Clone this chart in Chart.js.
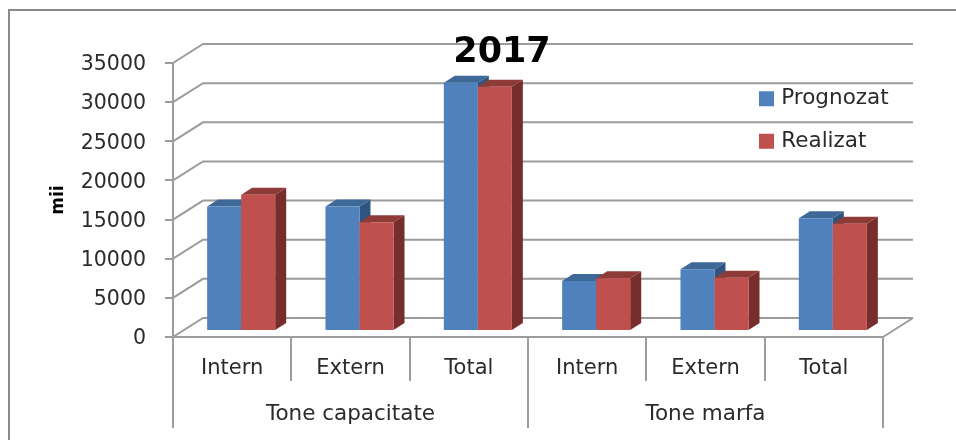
<!DOCTYPE html>
<html><head><meta charset="utf-8">
<style>html,body{margin:0;padding:0;background:#fff;overflow:hidden}canvas{display:block}</style>
<script src="https://cdn.jsdelivr.net/npm/chart.js@4"></script>
</head><body><canvas id="c" width="956" height="440"></canvas>
<script>
const categories = ['Intern','Extern','Total','Intern','Extern','Total'];
const groups = ['Tone capacitate','Tone marfa'];
const prognozat = [15900,15900,31700,6400,7900,14400];
const realizat = [17400,13900,31200,6750,6800,13700];
const titleText = '2017';
const yTitle = 'mii';

const GRID = '#9c9c9c', TEXT = '#2b2b2b', FONT = '"DejaVu Sans"';
const WALL = {dx:30, dy:-19}, BAR = {dx:9, dy:-6}, DEPTH = {dx:11, dy:-7};
const faces = [{top:'#3d6898', side:'#2f5580'},{top:'#8e3b38', side:'#772d2b'}];

const poly = (ctx,pts,fill)=>{ctx.beginPath();pts.forEach((p,i)=>i?ctx.lineTo(p[0],p[1]):ctx.moveTo(p[0],p[1]));ctx.closePath();ctx.fillStyle=fill;ctx.fill();};
const extrude = (ctx,meta,f)=>{
  ctx.translate(BAR.dx,BAR.dy);
  meta.data.forEach(b=>{
    const l=b.x-b.width/2,r=b.x+b.width/2,t=b.y,bt=b.base,dx=DEPTH.dx,dy=DEPTH.dy;
    poly(ctx,[[r,t],[r+dx,t+dy],[r+dx,bt+dy],[r,bt]],f.side);
    poly(ctx,[[l,t],[l+dx,t+dy],[r+dx,t+dy],[r,t]],f.top);
  });
};

const scene = {
  id:'scene',
  afterLayout(chart){
    const t = chart.titleBlock; t.left=402; t.right=602; t.top=35; t.bottom=69;
    const l = chart.legend; const p = l.options.labels.padding;
    l.left = 762.5-p; l.right = 900; l.top = 88-p; l.bottom = 300;
    chart.scales.x.bottom = chart.height;
    chart.scales.x2.bottom = chart.height;
  },
  beforeDraw(chart){
    const {ctx,chartArea:a,scales:{y}} = chart;
    ctx.save();
    ctx.strokeStyle='#8a8a8a';ctx.lineWidth=2;
    ctx.beginPath();ctx.moveTo(9,440);ctx.lineTo(9,10);ctx.lineTo(chart.width,10);ctx.stroke();
    ctx.strokeStyle=GRID;ctx.lineWidth=2;
    y.ticks.forEach(t=>{
      const py=y.getPixelForValue(t.value);
      ctx.beginPath();ctx.moveTo(a.left,py);ctx.lineTo(a.left+WALL.dx,py+WALL.dy);ctx.lineTo(a.right+WALL.dx,py+WALL.dy);ctx.stroke();
    });
    const py0=y.getPixelForValue(0);
    ctx.beginPath();ctx.moveTo(a.right,py0);ctx.lineTo(a.right+WALL.dx,py0+WALL.dy);ctx.stroke();
    ctx.restore();
  },
  // Left series first, so the right series' front faces sit over its side faces.
  beforeDatasetDraw(chart,args){
    if(args.index===1) return false;
    chart.ctx.save();
    extrude(chart.ctx,args.meta,faces[0]);
  },
  afterDatasetDraw(chart){
    const ctx=chart.ctx, m=chart.getDatasetMeta(1);
    ctx.restore();
    ctx.save();
    extrude(ctx,m,faces[1]);
    m.controller.draw();
    ctx.restore();
  }
};

new Chart(document.getElementById('c'),{
  type:'bar',
  data:{labels:categories,datasets:[
    {label:'Prognozat',data:prognozat,backgroundColor:'#4f81bd',clip:false},
    {label:'Realizat',data:realizat,backgroundColor:'#c0504d',clip:false}
  ]},
  plugins:[scene],
  options:{
    responsive:false,animation:false,devicePixelRatio:1,
    layout:{autoPadding:false,padding:{left:48,top:28,right:73,bottom:103}},
    datasets:{bar:{categoryPercentage:0.575,barPercentage:1,grouped:true,borderWidth:0}},
    plugins:{
      tooltip:{enabled:false},
      title:{display:true,text:titleText,color:'#000',padding:0,font:{family:FONT,size:35,weight:'bold',lineHeight:1}},
      legend:{position:'chartArea',align:'start',labels:{usePointStyle:true,pointStyle:'rect',boxWidth:8,boxHeight:15,padding:21,color:TEXT,font:{family:FONT,size:21.5}}}
    },
    scales:{
      x:{
        type:'category',offset:true,
        grid:{offset:true,color:GRID,lineWidth:2,drawOnChartArea:false,tickLength:44},
        border:{color:GRID,width:2},
        ticks:{autoSkip:false,maxRotation:0,minRotation:0,color:TEXT,padding:-25,font:{family:FONT,size:21}},
        afterFit(s){s.height=0;}
      },
      x2:{
        type:'category',position:'bottom',labels:groups,offset:true,
        grid:{offset:true,color:GRID,lineWidth:2,drawOnChartArea:false,tickLength:91},
        border:{display:false},
        ticks:{autoSkip:false,maxRotation:0,minRotation:0,color:TEXT,padding:-26,font:{family:FONT,size:21.5}},
        afterFit(s){s.height=0;}
      },
      y:{
        min:0,max:35000,
        grid:{color:GRID,lineWidth:2,drawOnChartArea:false,tickLength:8},
        border:{color:GRID,width:2},
        ticks:{stepSize:5000,padding:19,labelOffset:2,color:TEXT,font:{family:FONT,size:20.5},callback:v=>String(v)},
        title:{display:true,text:yTitle,color:'#000',padding:0,font:{family:FONT,size:17,weight:'bold'}},
        afterFit(s){s.width=125;}
      }
    }
  }
});
</script></body></html>
